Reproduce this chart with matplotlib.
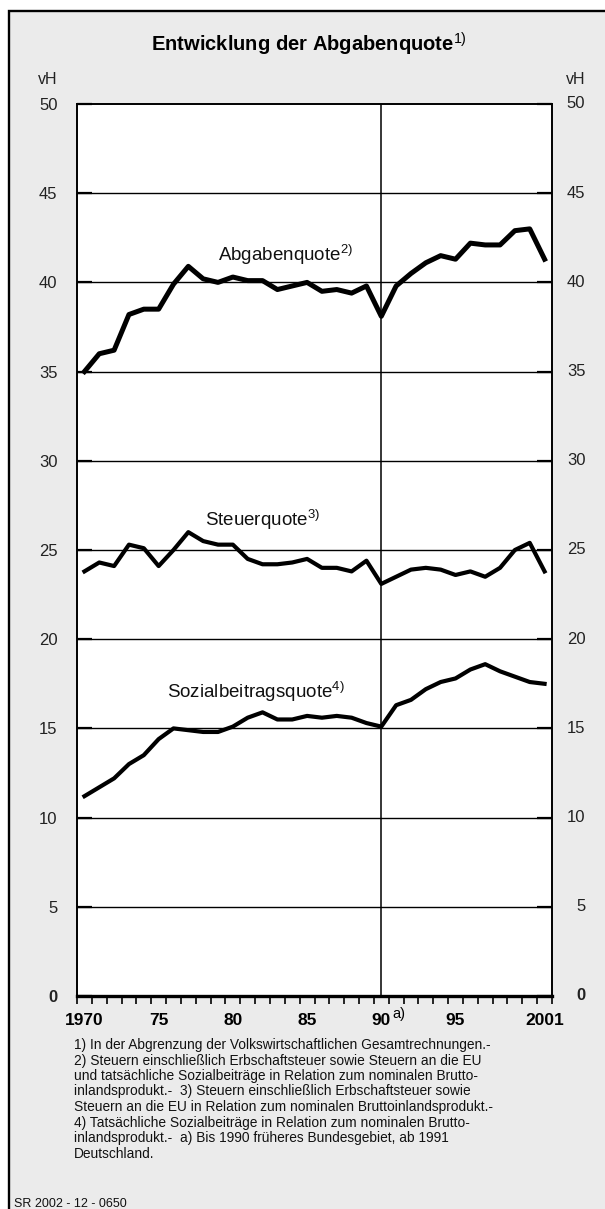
import matplotlib.pyplot as plt
from matplotlib.patches import Rectangle

plt.rcParams['font.family'] = ['Liberation Sans', 'DejaVu Sans']
plt.rcParams['mathtext.fontset'] = 'custom'
plt.rcParams['mathtext.rm'] = 'Liberation Sans'
plt.rcParams['mathtext.bf'] = 'Liberation Sans:bold'
plt.rcParams['mathtext.it'] = 'Liberation Sans'

# Daten (vH des BIP)
years = list(range(1970, 2002))
abgabenquote = [35.0, 36.0, 36.2, 38.2, 38.5, 38.5, 39.9, 40.9, 40.2, 40.0,
                40.3, 40.1, 40.1, 39.6, 39.8, 40.0, 39.5, 39.6, 39.4, 39.8,
                38.1, 39.8, 40.5, 41.1, 41.5, 41.3, 42.2, 42.1, 42.1, 42.9,
                43.0, 41.3]
steuerquote = [23.8, 24.3, 24.1, 25.3, 25.1, 24.1, 25.0, 26.0, 25.5, 25.3,
               25.3, 24.5, 24.2, 24.2, 24.3, 24.5, 24.0, 24.0, 23.8, 24.4,
               23.1, 23.5, 23.9, 24.0, 23.9, 23.6, 23.8, 23.5, 24.0, 25.0,
               25.4, 23.8]
sozialbeitragsquote = [11.2, 11.7, 12.2, 13.0, 13.5, 14.4, 15.0, 14.9, 14.8, 14.8,
                       15.1, 15.6, 15.9, 15.5, 15.5, 15.7, 15.6, 15.7, 15.6, 15.3,
                       15.1, 16.3, 16.6, 17.2, 17.6, 17.8, 18.3, 18.6, 18.2, 17.9,
                       17.6, 17.5]

xtick_pos = [1970, 1975, 1980, 1985, 1990, 1995, 2001]
xtick_labels = ['1970', '75', '80', '85', '90', '95', '2001']
ytick_pos = [0, 5, 10, 15, 20, 25, 30, 35, 40, 45, 50]

footnotes = [
    "1) In der Abgrenzung der Volkswirtschaftlichen Gesamtrechnungen.-",
    "2) Steuern einschließlich Erbschaftsteuer sowie Steuern an die EU",
    "und tatsächliche Sozialbeiträge in Relation zum nominalen Brutto-",
    "inlandsprodukt.-  3) Steuern einschließlich Erbschaftsteuer sowie",
    "Steuern an die EU in Relation zum nominalen Bruttoinlandsprodukt.-",
    "4) Tatsächliche Sozialbeiträge in Relation zum nominalen Brutto-",
    "inlandsprodukt.-  a) Bis 1990 früheres Bundesgebiet, ab 1991",
    "Deutschland.",
]

W, H = 605, 1209
fig = plt.figure(figsize=(W / 100, H / 100), dpi=100, facecolor='white')

# grauer Rahmen hinter allem
fig.patches.append(Rectangle((9 / W, -0.02), 1.1, (H - 11) / H + 0.02,
                             transform=fig.transFigure, facecolor='#ebebeb',
                             edgecolor='black', linewidth=1.7, zorder=-5))

ax = fig.add_axes([77 / W, (H - 996) / H, (552 - 77) / W, (996 - 104) / H])
ax.set_zorder(2)
ax.set_facecolor('white')

for y in ytick_pos[1:-1]:
    ax.axhline(y, color='black', lw=1.0, zorder=1)
ax.axvline(1990, color='black', lw=1.1, zorder=1)

ax.plot(years, abgabenquote, color='black', lw=3.6, zorder=3)
ax.plot(years, steuerquote, color='black', lw=3.0, zorder=3)
ax.plot(years, sozialbeitragsquote, color='black', lw=3.0, zorder=3)

ax.text(1979.0, 41.55, r'Abgabenquote$^{2)}$', fontsize=13.5, va='center', color='#111')
ax.text(1978.1, 26.7, r'Steuerquote$^{3)}$', fontsize=13.5, va='center', color='#111')
ax.text(1975.55, 17.05, r'Sozialbeitragsquote$^{4)}$', fontsize=13.5, va='center', color='#111')

ax.set_xlim(1969.5, 2001.5)
ax.set_ylim(0, 50)

ax.set_xticks(xtick_pos)
ax.set_xticklabels(xtick_labels, fontsize=12.5, fontweight='bold')
ax.set_xticks([y + 0.5 for y in range(1969, 2002)], minor=True)
ax.tick_params(axis='x', which='major', length=0, pad=12)
ax.tick_params(axis='x', which='minor', direction='out', length=6, width=1.2)
ax.annotate('a)', xy=(1990, 0), xycoords=('data', 'axes fraction'),
            xytext=(8, -13), textcoords='offset points', fontsize=10.5,
            va='center', ha='left')

ax.set_yticks(ytick_pos)
ax.set_yticklabels([str(v) for v in ytick_pos], fontsize=12, color='#222')
ax.tick_params(axis='y', which='major', direction='in', length=11, width=1.6,
               left=True, right=True, labelleft=True, labelright=False, pad=14)
ax.get_yticklabels()[0].set_fontweight('bold')

# rechte Achsenbeschriftung, rechtsbündig
for v in ytick_pos:
    ax.annotate(str(v), xy=(1, v), xycoords=('axes fraction', 'data'),
                xytext=(24, 0), textcoords='offset points', ha='right',
                va='center', fontsize=12, color='#222',
                fontweight='bold' if v == 0 else 'normal',
                annotation_clip=False)

for side in ['left', 'right', 'top']:
    ax.spines[side].set_linewidth(1.4)
ax.spines['bottom'].set_linewidth(2.4)

fig.text(57 / W, 1 - 79 / H, 'vH', fontsize=11.5, ha='right', va='center', color='#222')
fig.text(585 / W, 1 - 79 / H, 'vH', fontsize=11.5, ha='right', va='center', color='#222')

fig.text(309 / W, 1 - 44 / H,
         r'$\mathbf{Entwicklung\ der\ Abgabenquote}^{\mathrm{1)}}$',
         fontsize=14.5, ha='center', va='center')

for i, line in enumerate(footnotes):
    fig.text(74 / W, 1 - (1045 + 15.5 * i) / H, line, fontsize=9.9,
             ha='left', va='center', color='#111')

fig.text(14 / W, 2 / H, 'SR 2002 - 12 - 0650', fontsize=9, ha='left',
         va='baseline', color='#111')

fig.savefig('out.png', dpi=100, facecolor=fig.get_facecolor())
